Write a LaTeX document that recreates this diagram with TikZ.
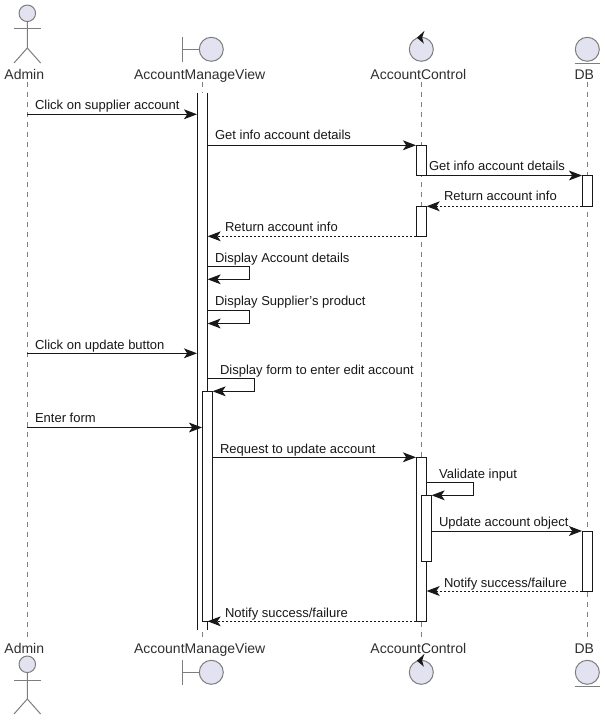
\documentclass[tikz,border=0pt]{standalone}
\usepackage{fontspec}
\setmainfont{Liberation Sans}
\usetikzlibrary{arrows.meta}
\definecolor{ink}{HTML}{181818}
\definecolor{glyphfill}{HTML}{E2E2F0}
\definecolor{glyphline}{HTML}{7E7E7E}
\definecolor{lifeline}{HTML}{808080}
\tikzset{
  x=0.75pt,y=-0.75pt,
  glyphstroke/.style={draw=glyphline,line width=0.75pt},
  bighead/.style={circle,glyphstroke,fill=glyphfill,minimum size=18pt,inner sep=0pt},
  smallhead/.style={circle,glyphstroke,fill=glyphfill,minimum size=12.4pt,inner sep=0pt},
  partlabel/.style={anchor=base,inner sep=0pt,font=\fontsize{10.5pt}{12pt}\selectfont,text=ink!90},
  msglabel/.style={anchor=base west,inner sep=0pt,font=\fontsize{9.75pt}{11pt}\selectfont,text=ink},
  lifedash/.style={draw=lifeline,line width=0.75pt,dash pattern=on 3.75pt off 3.75pt},
  actbox/.style={draw=ink,fill=white,line width=0.75pt,minimum width=7.5pt,inner sep=0pt},
  openbox/.style={fill=white,minimum width=7.5pt,inner sep=0pt},
  msg/.style={draw=ink,line width=0.75pt,-{Stealth[length=9.8pt,width=7.4pt,inset=2.5pt,color=ink]}},
  reply/.style={msg,dash pattern=on 1.5pt off 1.5pt},
  actorpic/.pic={
    \node[smallhead] (-head) at (0,13.3) {};
    \draw[glyphstroke] (-head.south) -- (0,48) -- (-13.3,63);
    \draw[glyphstroke] (0,48) -- (13.3,63);
    \draw[glyphstroke] (-13.3,29) -- (13.3,29);
  },
  boundarypic/.pic={
    \node[bighead] (-head) at (0,0) {};
    \draw[glyphstroke] (-29,-12.3) -- (-29,12.3);
    \draw[glyphstroke] (-29,0) -- (-head.west);
  },
  controlpic/.pic={
    \node[bighead] (-head) at (0,0) {};
    \fill[ink] (-4.4,-11.6) -- (3.2,-18.5) -- (0.8,-11.6) -- (2.6,-5.6) -- cycle;
  },
  entitypic/.pic={
    \node[bighead] (-head) at (0,0) {};
    \draw[glyphstroke] (-12.5,14) -- (12.5,14);
  }
}
\newcommand{\actbar}[4]{\node[actbox,minimum height={(#4-#3)*0.75pt}] (#1) at (#2,{(#3+#4)/2}) {};}
\begin{document}
\begin{tikzpicture}
\fill[white] (0,0) rectangle (605,720);
\useasboundingbox (0,0) rectangle (605,720);

% participants
\pic (adminT) at (27.3,0) {actorpic};
\pic (adminB) at (27.3,651) {actorpic};
\pic (viewT) at (211.3,49.3) {boundarypic};
\pic (viewB) at (211.3,672.3) {boundarypic};
\pic (ctlT) at (421.3,49.3) {controlpic};
\pic (ctlB) at (421.3,672.3) {controlpic};
\pic (dbT) at (587.3,49.3) {entitypic};
\pic (dbB) at (587.3,672.3) {entitypic};

\node[partlabel] (adminLT) at (24.3,80) {Admin};
\node[partlabel] (viewLT) at (199.7,80) {AccountManageView};
\node[partlabel] (ctlLT) at (418.3,80) {AccountControl};
\node[partlabel] (dbLT) at (584.3,80) {DB};
\node[partlabel] (adminLB) at (24.3,653) {Admin};
\node[partlabel] (viewLB) at (199.7,653) {AccountManageView};
\node[partlabel] (ctlLB) at (418.3,653) {AccountControl};
\node[partlabel] (dbLB) at (584.3,653) {DB};

% lifelines
\coordinate (l1a) at (27.3,82);  \coordinate (l1b) at (27.3,638);
\coordinate (l2a) at (202.3,82); \coordinate (l2b) at (202.3,638);
\coordinate (l3a) at (421.3,82); \coordinate (l3b) at (421.3,638);
\coordinate (l4a) at (587.3,82); \coordinate (l4b) at (587.3,638);
\draw[lifedash] (l1a) -- (l1b);
\draw[lifedash] (l2a) -- (l2b);
\draw[lifedash] (l3a) -- (l3b);
\draw[lifedash] (l4a) -- (l4b);

% activations
\node[openbox,minimum height={(630-93)*0.75pt}] (viewMain) at (202.3,361.5) {};
\draw[ink,line width=0.75pt] (viewMain.north west) -- (viewMain.south west);
\draw[ink,line width=0.75pt] (viewMain.north east) -- (viewMain.south east);
\actbar{viewInner}{207.3}{391.3}{621.3}
\actbar{ctlA}{421.3}{145.3}{175.5}
\actbar{ctlB}{421.3}{206.3}{236.3}
\actbar{ctlC}{421.3}{457.3}{621.3}
\actbar{ctlD}{426.3}{495.3}{561.3}
\actbar{dbA}{587.3}{175.5}{206.3}
\actbar{dbC}{587.3}{531}{591}

% messages
\coordinate (m1a) at (27.3,114.3);  \coordinate (m1b) at (197,114.3);
\draw[msg] (m1a) -- (m1b);
\node[msglabel] (t1) at (34.8,110) {Click on supplier account};

\coordinate (m2a) at (207.3,145.3); \coordinate (m2b) at (416,145.3);
\draw[msg] (m2a) -- (m2b);
\node[msglabel] (t2) at (214.8,140) {Get info account details};

\coordinate (m3a) at (426.3,175.5); \coordinate (m3b) at (582,175.5);
\draw[msg] (m3a) -- (m3b);
\node[msglabel] (t3) at (428.8,171) {Get info account details};

\coordinate (m4a) at (582,206.3); \coordinate (m4b) at (426.6,206.3);
\draw[reply] (m4a) -- (m4b);
\node[msglabel] (t4) at (443.8,201) {Return account info};

\coordinate (m5a) at (416.3,236.3); \coordinate (m5b) at (207.6,236.3);
\draw[reply] (m5a) -- (m5b);
\node[msglabel] (t5) at (224.8,232) {Return account info};

\coordinate (m6a) at (207.3,266.3); \coordinate (m6c) at (249.3,266.3);
\coordinate (m6d) at (249.3,279.3); \coordinate (m6b) at (207.6,279.3);
\draw[msg] (m6a) -- (m6c) -- (m6d) -- (m6b);
\node[msglabel] (t6) at (214.8,262) {Display Account details};

\coordinate (m7a) at (207.3,310.7); \coordinate (m7c) at (249.3,310.7);
\coordinate (m7d) at (249.3,323.5); \coordinate (m7b) at (207.6,323.5);
\draw[msg] (m7a) -- (m7c) -- (m7d) -- (m7b);
\node[msglabel] (t7) at (214.8,305) {Display Supplier\symbol{39}s product};

\coordinate (m8a) at (27.3,353.3);  \coordinate (m8b) at (197,353.3);
\draw[msg] (m8a) -- (m8b);
\node[msglabel] (t8) at (34.8,349) {Click on update button};

\coordinate (m9a) at (207.3,378.3); \coordinate (m9c) at (254.3,378.3);
\coordinate (m9d) at (254.3,391.3); \coordinate (m9b) at (212.6,391.3);
\draw[msg] (m9a) -- (m9c) -- (m9d) -- (m9b);
\node[msglabel] (t9) at (219.8,374) {Display form to enter edit account};

\coordinate (m10a) at (27.3,427.5); \coordinate (m10b) at (202,427.5);
\draw[msg] (m10a) -- (m10b);
\node[msglabel] (t10) at (34.8,422) {Enter form};

\coordinate (m11a) at (212.3,457.3); \coordinate (m11b) at (416,457.3);
\draw[msg] (m11a) -- (m11b);
\node[msglabel] (t11) at (219.8,453) {Request to update account};

\coordinate (m12a) at (426.3,482.3); \coordinate (m12c) at (473.3,482.3);
\coordinate (m12d) at (473.3,495.3); \coordinate (m12b) at (431.6,495.3);
\draw[msg] (m12a) -- (m12c) -- (m12d) -- (m12b);
\node[msglabel] (t12) at (438.8,478) {Validate input};

\coordinate (m13a) at (431.3,531); \coordinate (m13b) at (582,531);
\draw[msg] (m13a) -- (m13b);
\node[msglabel] (t13) at (438.8,526) {Update account object};

\coordinate (m14a) at (582,591); \coordinate (m14b) at (426.6,591);
\draw[reply] (m14a) -- (m14b);
\node[msglabel] (t14) at (443.8,587) {Notify success/failure};

\coordinate (m15a) at (416.3,621.3); \coordinate (m15b) at (207.6,621.3);
\draw[reply] (m15a) -- (m15b);
\node[msglabel] (t15) at (224.8,617) {Notify success/failure};
\end{tikzpicture}
\end{document}
